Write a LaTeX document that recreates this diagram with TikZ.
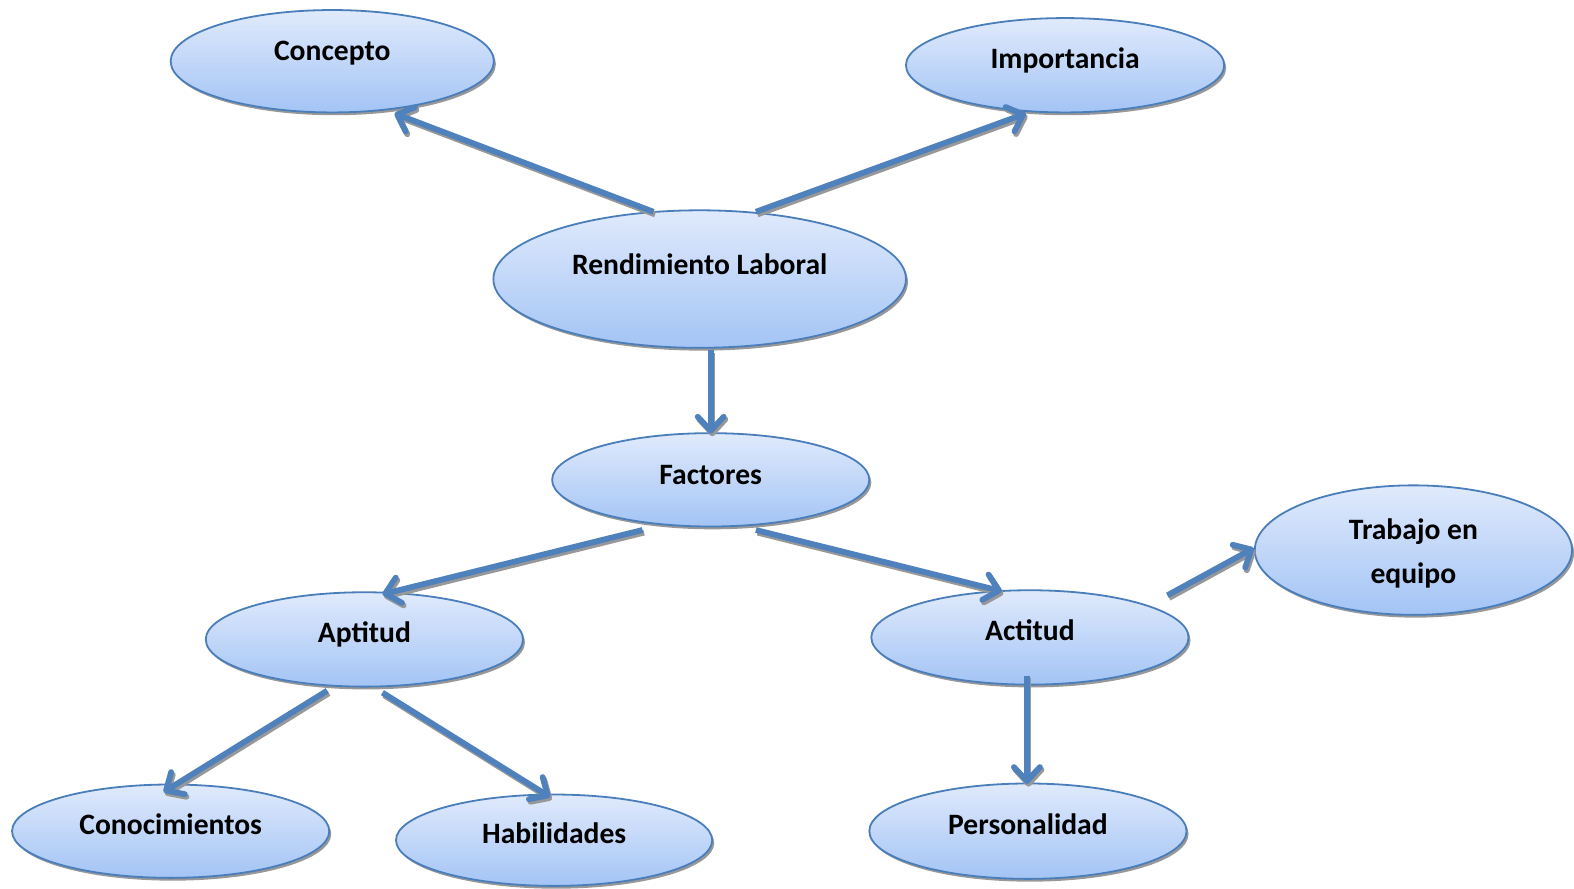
\documentclass[tikz,border=0pt]{standalone}
\usepackage{fontspec}
\setmainfont{Carlito}
\usetikzlibrary{shapes.geometric,arrows.meta,shadows,calc}
\definecolor{edgeblue}{RGB}{74,126,187}
\definecolor{arrowblue}{RGB}{79,129,189}
\definecolor{filltop}{RGB}{224,234,252}
\definecolor{fillbot}{RGB}{163,196,245}
\definecolor{shade}{RGB}{152,152,152}

% a connector with its grey shadow drawn underneath
\newcommand\linkarrow[2]{%
  \draw[connshadow] #1 -- #2;
  \draw[conn] #1 -- #2;}

\begin{document}
\begin{tikzpicture}[x=0.5019pt, y=-0.5019pt,
  bubble/.style={ellipse, draw=edgeblue, line width=0.9pt,
    top color=filltop, bottom color=fillbot, inner sep=0pt, outer sep=0pt,
    drop shadow={shadow xshift=1pt, shadow yshift=-1.4pt, fill=shade, opacity=1}},
  bsize/.style 2 args={minimum width=#1*0.5019pt, minimum height=#2*0.5019pt},
  lbl/.style={font=\fontsize{14.8}{21.6}\selectfont\bfseries, align=center, inner sep=0pt},
  tip/.style={-{Straight Barb[length=7pt,width=13pt,round]}},
  conn/.style={draw=arrowblue, line width=2.9pt, tip},
  connshadow/.style={draw=shade, line width=2.9pt, tip,
    transform canvas={shift={(0.8pt,-1.3pt)}}}]
  \useasboundingbox (0,0) rectangle (1568,885);

  % concept bubbles
  \node[bubble, bsize={322}{102}, label={[lbl, yshift=4pt]center:Concepto}] (conc) at (331,61) {};
  \node[bubble, bsize={317}{94}, label={[lbl, yshift=2.5pt]center:Importancia}] (imp) at (1061,65) {};
  \node[bubble, bsize={411}{137}, label={[lbl, yshift=7.5pt]center:Rendimiento Laboral}] (rend) at (697,278) {};
  \node[bubble, bsize={316}{93}, label={[lbl, yshift=2.5pt]center:Factores}] (fac) at (708,478) {};
  \node[bubble, bsize={316}{94}, label={[lbl, yshift=2.5pt]center:Aptitud}] (apt) at (363,637) {};
  \node[bubble, bsize={316}{94}, label={[lbl, yshift=3.5pt]center:Actitud}] (act) at (1026,635) {};
  \node[bubble, bsize={316}{129}, label={[lbl, yshift=-1.7pt]center:Trabajo en\\equipo}] (trab) at (1408,548) {};
  \node[bubble, bsize={316}{93}, label={[lbl, yshift=3.5pt]center:Conocimientos}] (conoc) at (170,828) {};
  \node[bubble, bsize={315}{91}, label={[lbl, yshift=3.5pt]center:Habilidades}] (hab) at (552,837) {};
  \node[bubble, bsize={316}{95}, label={[lbl, yshift=3.5pt]center:Personalidad}] (pers) at (1024,828) {};

  % connectors
  \linkarrow{($(rend)+(-46,-67)$)}{($(conc)+(62,52)$)}
  \linkarrow{($(rend)+(56,-67)$)}{($(imp)+(-39,48)$)}
  \linkarrow{($(rend)+(11,71)$)}{($(fac)+(0,-46)$)}
  \linkarrow{($(fac)+(-68,50)$)}{($(apt)+(18,-45)$)}
  \linkarrow{($(fac)+(45,50)$)}{($(act)+(-28,-46)$)}
  \linkarrow{($(act)+(137,-42)$)}{($(trab)+(-159,-2)$)}
  \linkarrow{($(apt)+(-37,51)$)}{($(conoc)+(-7,-39)$)}
  \linkarrow{($(apt)+(18,53)$)}{($(hab)+(-4,-43)$)}
  \linkarrow{($(act)+(-3,38)$)}{($(pers)+(-1,-47)$)}
\end{tikzpicture}
\end{document}
